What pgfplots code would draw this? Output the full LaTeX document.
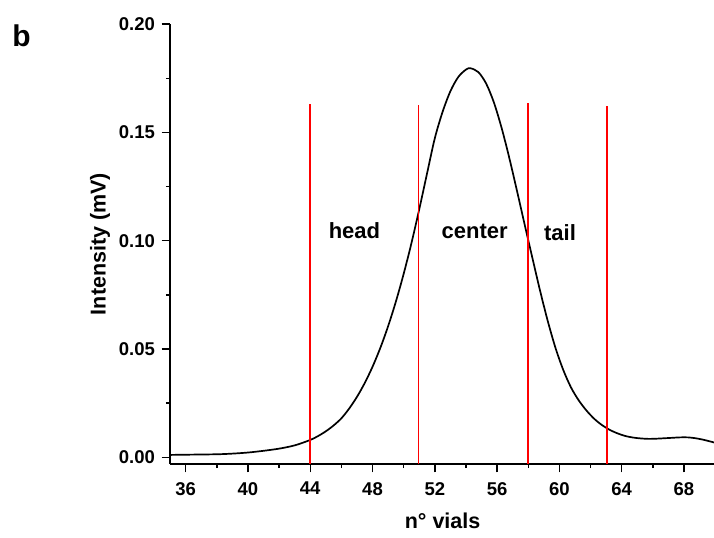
\documentclass[border=0pt]{standalone}
\usepackage{pgfplots}
\pgfplotsset{compat=1.18}
\usepackage{fontspec}
\setmainfont{Liberation Sans}
\begin{document}
\begin{tikzpicture}
\useasboundingbox (-170.1bp,-74.2bp) rectangle (543.9bp,463.8bp);
\begin{axis}[
  scale only axis,
  width=545bp, height=439.7bp,
  xmin=35, xmax=70, ymin=-0.003, ymax=0.2,
  axis x line=bottom, axis y line=left,
  axis line style={-, line width=1.7bp, black},
  xtick={36,40,...,68},
  ytick={0,0.05,0.1,0.15,0.2},
  minor x tick num=1, minor y tick num=1,
  tick align=outside,
  major tick length=8.5bp, minor tick length=4.3bp,
  every tick/.style={line width=1.4bp, black},
  scaled y ticks=false,
  /pgf/number format/assume math mode=true,
  ticklabel style={font=\bfseries\fontsize{18.5bp}{18.5bp}\selectfont, inner sep=0pt},
  yticklabel style={/pgf/number format/.cd, fixed, fixed zerofill, precision=2, /tikz/.cd, anchor=east, xshift=-6.5bp},
  xticklabel style={anchor=north, yshift=-9.7bp},
  xlabel={n° vials},
  ylabel={Intensity (mV)},
  label style={font=\bfseries\fontsize{21.5bp}{21.5bp}\selectfont},
  xlabel style={at={(axis description cs:0.5,0)}, anchor=base, yshift=-65bp},
  ylabel style={at={(axis description cs:-0.1286,0.5)}, anchor=center},
  clip=true,
]
\addplot[black, line width=1.7bp, smooth] coordinates {
(35,0.0011) (36,0.0012) (38,0.0014) (39,0.0017) (40,0.0022) (41,0.0030)
(42,0.0040) (43,0.0055) (44,0.0080) (44.5,0.0098) (45,0.0120) (45.5,0.0147)
(46,0.0180) (46.5,0.0225) (47,0.0279) (47.5,0.0343) (48,0.0418) (48.5,0.0505)
(49,0.0605) (49.5,0.0719) (50,0.0847) (50.5,0.0989) (51,0.1145) (51.5,0.1310)
(52,0.1473) (52.5,0.1595) (53,0.1690) (53.5,0.1755) (54,0.1790) (54.3,0.1796)
(54.8,0.1778) (55.3,0.1725) (55.8,0.1637) (56.3,0.1518) (56.8,0.1377)
(57.3,0.1223) (57.8,0.1065) (58.3,0.0910) (58.75,0.0772) (59.25,0.0630)
(59.75,0.0505) (60.25,0.0403) (60.75,0.0322) (61.25,0.0262) (61.75,0.0215)
(62.25,0.0177) (62.75,0.0148) (63.25,0.0126) (63.75,0.0110) (64.25,0.0098)
(64.75,0.0091) (65.25,0.0087) (65.75,0.0085) (66.25,0.0086) (66.75,0.0088)
(67.25,0.0090) (67.75,0.0092) (68.25,0.0092) (68.75,0.0088) (69.25,0.0081)
(69.75,0.0072) (70,0.0067)
};
\addplot[red, line width=1.5bp] coordinates {(44,-0.003) (44,0.163)};
\addplot[red, line width=1.5bp] coordinates {(50.95,-0.003) (50.95,0.1626)};
\addplot[red, line width=1.5bp] coordinates {(58,-0.003) (58,0.1635)};
\addplot[red, line width=1.5bp] coordinates {(63.07,-0.003) (63.07,0.1622)};
\node[font=\bfseries\fontsize{22bp}{22bp}\selectfont] at (axis cs:46.84,0.1045) {head};
\node[font=\bfseries\fontsize{22bp}{22bp}\selectfont] at (axis cs:54.56,0.1043) {center};
\node[font=\bfseries\fontsize{22bp}{22bp}\selectfont] at (axis cs:60.04,0.1036) {tail};
\end{axis}
\node[anchor=base west, inner sep=0pt, font=\bfseries\fontsize{30bp}{30bp}\selectfont] at (-158bp,417bp) {b};
\end{tikzpicture}
\end{document}
